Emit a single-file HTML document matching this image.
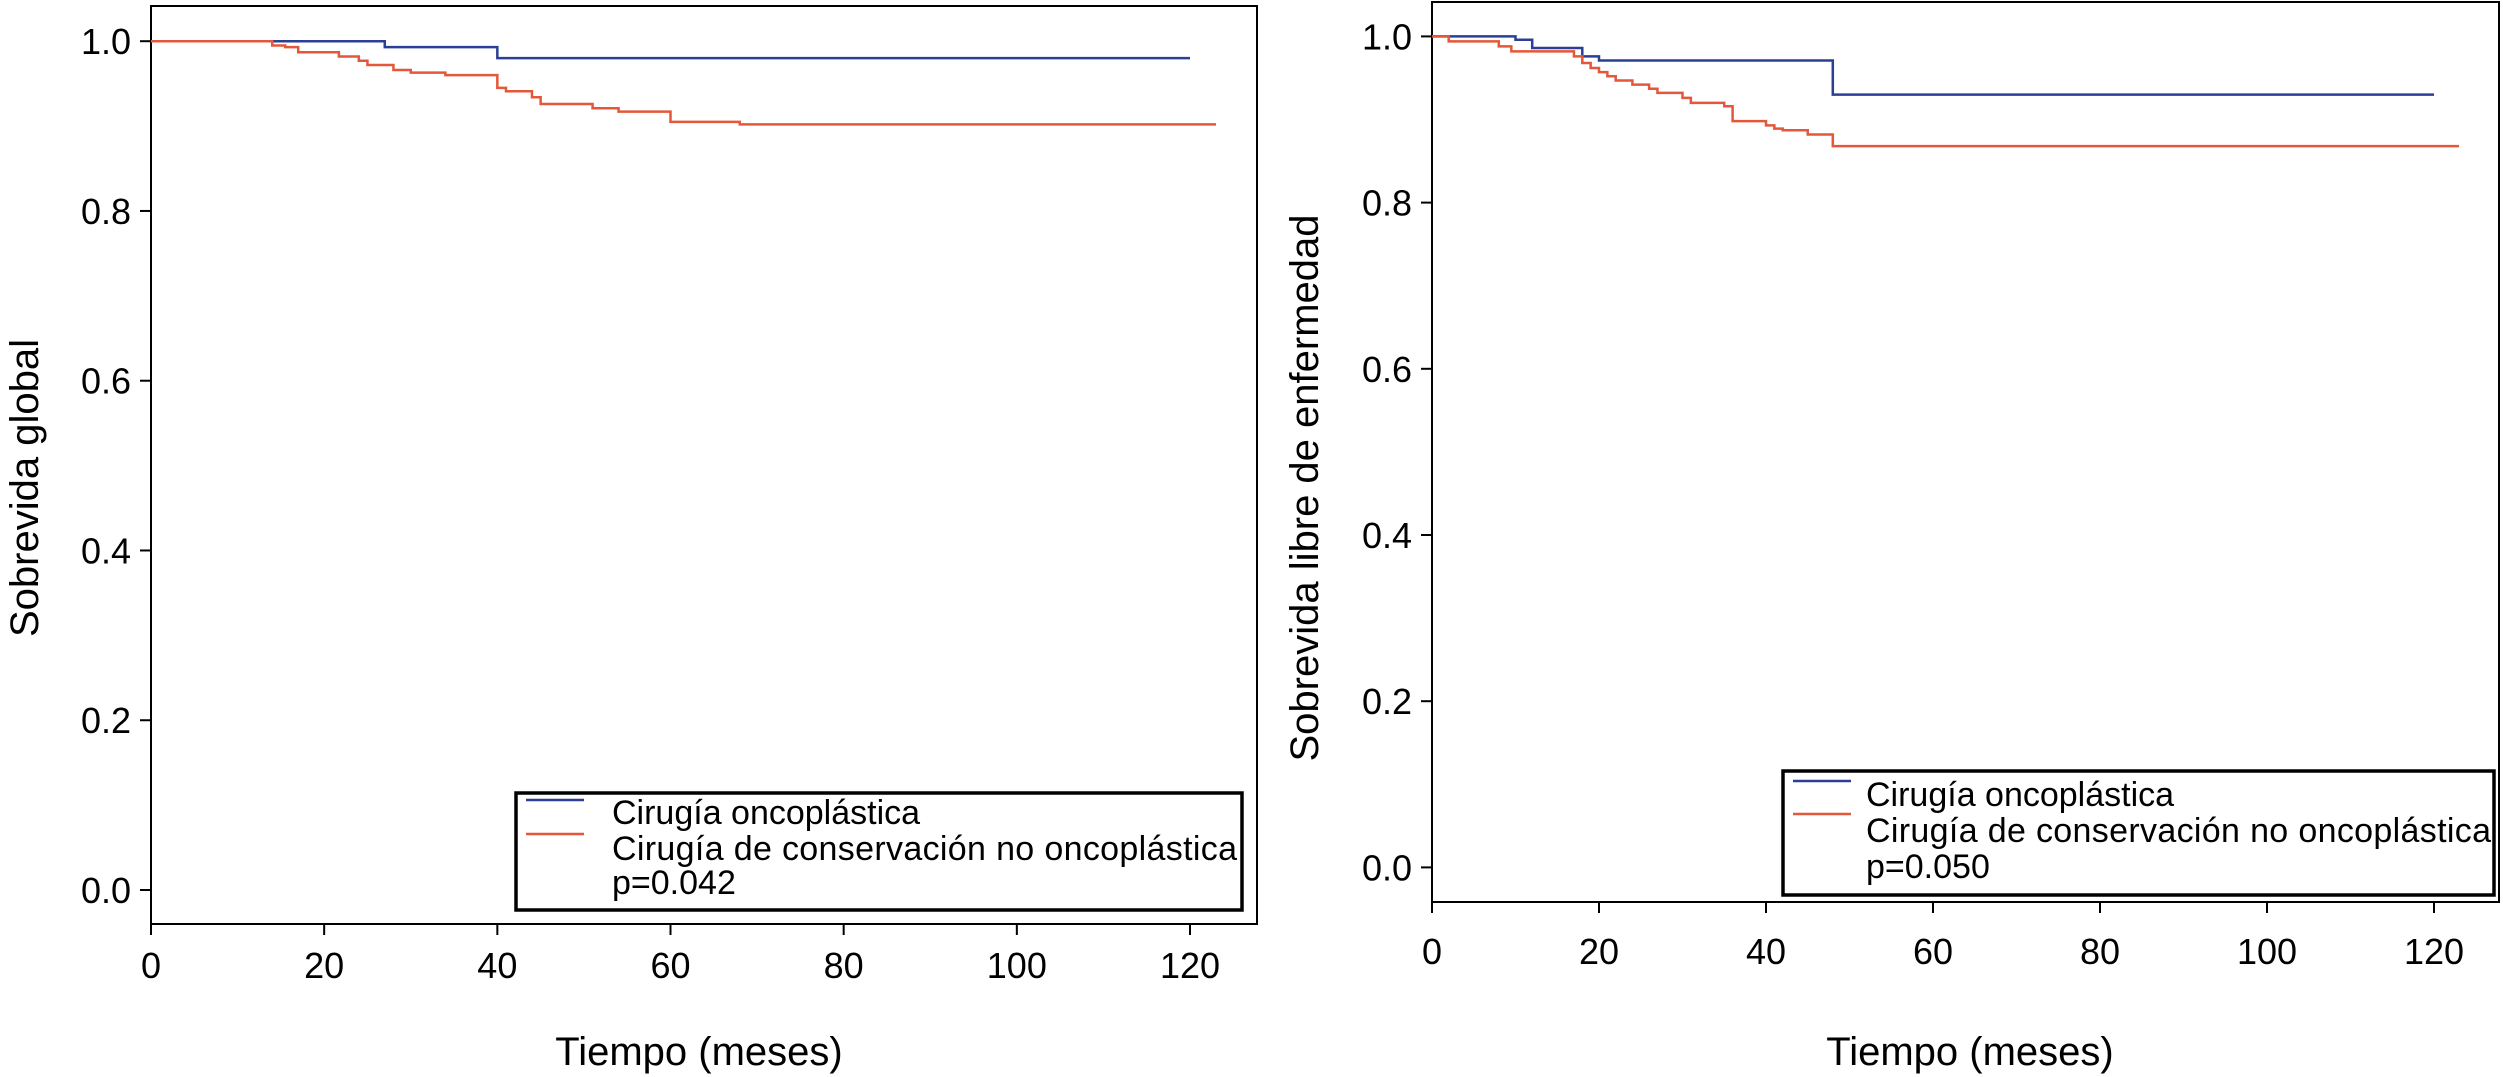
<!DOCTYPE html>
<html><head><meta charset="utf-8"><style>
html,body{margin:0;padding:0;background:#fff;}
svg{display:block;font-family:"Liberation Sans",Arial,sans-serif;}
</style></head><body>
<svg id="c" width="2503" height="1077" viewBox="0 0 2503 1077"></svg>
<script>
const xTicks=[0,20,40,60,80,100,120];
const yTicks=[0.0,0.2,0.4,0.6,0.8,1.0];
const yTickLabels=["0.0","0.2","0.4","0.6","0.8","1.0"];
// Left chart: overall survival
const osOncoT=[0,27,40,120];
const osOncoS=[1.0,0.993,0.980,0.980];
const osConsT=[0,14,15.5,17,21.7,24,25,28,30,34,40,41,44,45,51,54,60,68,123];
const osConsS=[1.0,0.995,0.993,0.987,0.982,0.977,0.972,0.966,0.963,0.960,0.945,0.941,0.934,0.926,0.921,0.917,0.905,0.902,0.902];
// Right chart: disease-free survival
const dfsOncoT=[0,10,12,18,20,48,120];
const dfsOncoS=[1.0,0.996,0.986,0.976,0.971,0.930,0.930];
const dfsConsT=[0,2,8,9.5,17,18,19,20,21,22,24,26,27,30,31,35,36,40,41,42,45,48,123];
const dfsConsS=[1.0,0.994,0.988,0.982,0.976,0.968,0.962,0.957,0.952,0.947,0.942,0.937,0.932,0.926,0.920,0.916,0.898,0.893,0.889,0.887,0.882,0.868,0.868];

const NS="http://www.w3.org/2000/svg";
const svg=document.getElementById('c');
function mk(tag,attrs,parent){const e=document.createElementNS(NS,tag);for(const k in attrs)e.setAttribute(k,attrs[k]);(parent||svg).appendChild(e);return e;}

function drawChart(cfg){
  const g=mk('g',{});
  
  
  const X=t=>cfg.x0+t*(cfg.x120-cfg.x0)/120;
  const Y=s=>cfg.y0+(1-s)*(cfg.y1-cfg.y0)*-1+ (cfg.y1-cfg.y0)*0 ; // placeholder
  const Yv=s=>cfg.y0+s*(cfg.y1-cfg.y0);
  const frame=mk('rect',{x:cfg.fl,y:cfg.ft,width:cfg.fr-cfg.fl,height:cfg.fb-cfg.ft,fill:'none',stroke:'#000','stroke-width':2},g);
  
  
  xTicks.forEach(t=>{
    const l=mk('line',{x1:X(t),x2:X(t),y1:cfg.fb,y2:cfg.fb+11,stroke:'#000','stroke-width':2},g);
    
    
    const tx=mk('text',{x:X(t),y:cfg.xly,'text-anchor':'middle','font-size':36},g);
    tx.textContent=t;
    
    
  });
  yTicks.forEach((v,i)=>{
    const l=mk('line',{x1:cfg.fl-11,x2:cfg.fl,y1:Yv(v),y2:Yv(v),stroke:'#000','stroke-width':2},g);
    
    
    const tx=mk('text',{x:cfg.fl-20,y:Yv(v)+13,'text-anchor':'end','font-size':36},g);
    tx.textContent=yTickLabels[i];
    
    
  });
  const yt=mk('text',{x:0,y:0,'text-anchor':'middle','font-size':40,transform:`translate(${cfg.ytx},${cfg.yty}) rotate(-90)`},g);
  yt.textContent=cfg.ytitle;
  
  
  const xt=mk('text',{x:cfg.xtx,y:1065,'text-anchor':'middle','font-size':40},g);
  xt.textContent='Tiempo (meses)';
  
  
  function step(T,S,color,name){
    let d=`M${X(T[0])},${Yv(S[0])}`;
    for(let i=1;i<T.length;i++){d+=` H${X(T[i])} V${Yv(S[i])}`;}
    const p=mk('path',{d:d,fill:'none',stroke:color,'stroke-width':2.5},g);
    
    
  }
  step(cfg.oT,cfg.oS,'#2b3f96','series-oncoplastic');
  step(cfg.cT,cfg.cS,'#e4573a','series-conservation');
  const L=cfg.leg;
  const lg=mk('g',{},g);
  
  
  mk('rect',{x:L.x,y:L.y,width:L.w,height:L.h,fill:'#fff',stroke:'#000','stroke-width':3.5},lg);
  mk('line',{x1:L.lx1,x2:L.lx2,y1:L.b1,y2:L.b1,stroke:'#2b3f96','stroke-width':2.5},lg);
  mk('line',{x1:L.lx1,x2:L.lx2,y1:L.r1,y2:L.r1,stroke:'#e4573a','stroke-width':2.5},lg);
  const texts=['Cirugía oncoplástica','Cirugía de conservación no oncoplástica',cfg.p];
  const names=['legend-entry-oncoplastic','legend-entry-conservation','p-value'];
  texts.forEach((s,i)=>{
    const t=mk('text',{x:L.tx,y:L.ty[i],'font-size':34,textLength:i==1?L.tl:null},lg);
    if(i!=1)t.removeAttribute('textLength');
    t.textContent=s;
    
    
  });
}

drawChart({name:'overall-survival-chart',x0:151,x120:1190,y0:890,y1:41.2,fl:151,fr:1257,ft:6,fb:924,xly:978,
  ytitle:'Sobrevida global',ytx:38,yty:488,xtx:699,oT:osOncoT,oS:osOncoS,cT:osConsT,cS:osConsS,p:'p=0.042',
  leg:{x:516,y:793,w:726,h:117,lx1:526,lx2:584,b1:800,r1:834,tx:612,ty:[824,860,894],tl:625}});
drawChart({name:'disease-free-survival-chart',x0:1432,x120:2434,y0:867.4,y1:36.4,fl:1432,fr:2499,ft:2,fb:902,xly:964,
  ytitle:'Sobrevida libre de enfermedad',ytx:1318,yty:488,xtx:1970,oT:dfsOncoT,oS:dfsOncoS,cT:dfsConsT,cS:dfsConsS,p:'p=0.050',
  leg:{x:1783,y:771,w:711,h:124,lx1:1793,lx2:1851,b1:781,r1:814,tx:1866,ty:[806,842,878],tl:625}});
</script>
</body></html>
